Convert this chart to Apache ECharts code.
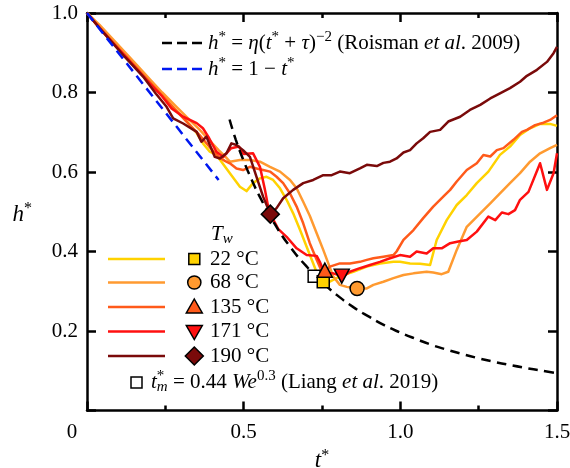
<!DOCTYPE html>
<html>
<head>
<meta charset="utf-8">
<script src="https://cdn.jsdelivr.net/npm/echarts@6.0.0/dist/echarts.min.js"></script>
<style>
  html, body { margin: 0; padding: 0; background: #fff; }
  #chart { width: 570px; height: 468px; }
</style>
</head>
<body>
<div id="chart"></div>
<script>
// Film thickness h* versus dimensionless time t* for several wall temperatures.
const FONT = '"Liberation Serif", "Times New Roman", Times, serif';

const C22 = '#FFD200';
const C68 = '#FF9A30';
const C135 = '#FF5A1A';
const C171 = '#FF1010';
const C190 = '#7A0A0A';

// measured curves, [t*, h*]
const h22 = [[0,1.0],[0.04,0.966],[0.08,0.93],[0.12,0.897],[0.16,0.862],[0.2,0.828],[0.24,0.793],[0.28,0.758],[0.32,0.726],[0.35,0.698],[0.37,0.672],[0.392,0.651],[0.413,0.643],[0.429,0.626],[0.456,0.597],[0.472,0.58],[0.488,0.563],[0.509,0.552],[0.53,0.572],[0.552,0.584],[0.573,0.588],[0.594,0.58],[0.616,0.559],[0.637,0.53],[0.658,0.496],[0.68,0.454],[0.701,0.412],[0.722,0.37],[0.738,0.337],[0.754,0.326],[0.775,0.324],[0.796,0.333],[0.818,0.341],[0.85,0.349],[0.893,0.362],[0.935,0.37],[0.978,0.374],[0.999,0.374],[1.031,0.37],[1.063,0.369],[1.095,0.366],[1.116,0.429],[1.148,0.479],[1.18,0.517],[1.212,0.542],[1.244,0.572],[1.281,0.601],[1.318,0.643],[1.35,0.664],[1.382,0.693],[1.414,0.71],[1.446,0.721],[1.478,0.721],[1.5,0.716]];

const h68 = [[0,1.0],[0.04,0.97],[0.08,0.936],[0.12,0.902],[0.16,0.868],[0.2,0.834],[0.24,0.8],[0.28,0.768],[0.32,0.737],[0.36,0.706],[0.39,0.68],[0.42,0.655],[0.44,0.64],[0.456,0.626],[0.488,0.63],[0.52,0.63],[0.552,0.626],[0.584,0.613],[0.616,0.601],[0.648,0.58],[0.669,0.559],[0.69,0.525],[0.711,0.49],[0.733,0.446],[0.754,0.404],[0.775,0.36],[0.786,0.337],[0.807,0.316],[0.829,0.311],[0.86,0.307],[0.893,0.307],[0.914,0.316],[0.946,0.324],[0.978,0.333],[1.01,0.341],[1.042,0.345],[1.084,0.349],[1.105,0.347],[1.132,0.343],[1.153,0.349],[1.18,0.404],[1.212,0.462],[1.255,0.496],[1.287,0.521],[1.318,0.546],[1.35,0.572],[1.382,0.597],[1.414,0.626],[1.446,0.647],[1.478,0.66],[1.5,0.668]];

const h135 = [[0,1.0],[0.04,0.964],[0.08,0.929],[0.12,0.895],[0.16,0.86],[0.2,0.826],[0.24,0.792],[0.28,0.758],[0.32,0.725],[0.36,0.692],[0.39,0.664],[0.42,0.638],[0.44,0.628],[0.456,0.622],[0.477,0.609],[0.498,0.605],[0.52,0.613],[0.541,0.609],[0.562,0.605],[0.584,0.601],[0.605,0.588],[0.626,0.572],[0.648,0.546],[0.669,0.513],[0.69,0.471],[0.711,0.421],[0.733,0.379],[0.749,0.35],[0.765,0.352],[0.775,0.362],[0.807,0.37],[0.839,0.37],[0.871,0.374],[0.893,0.379],[0.914,0.383],[0.946,0.387],[0.978,0.391],[0.988,0.4],[1.01,0.429],[1.042,0.454],[1.073,0.484],[1.105,0.513],[1.137,0.538],[1.159,0.555],[1.18,0.576],[1.212,0.605],[1.244,0.622],[1.265,0.643],[1.287,0.639],[1.308,0.655],[1.329,0.66],[1.361,0.681],[1.388,0.701],[1.404,0.706],[1.43,0.718],[1.457,0.724],[1.478,0.731],[1.5,0.743]];

const h171 = [[0,1.0],[0.04,0.962],[0.08,0.927],[0.12,0.893],[0.16,0.858],[0.2,0.823],[0.24,0.79],[0.27,0.76],[0.307,0.739],[0.35,0.723],[0.37,0.71],[0.387,0.689],[0.413,0.651],[0.435,0.638],[0.46,0.66],[0.485,0.664],[0.5,0.645],[0.53,0.647],[0.552,0.613],[0.568,0.555],[0.578,0.513],[0.595,0.48],[0.61,0.457],[0.637,0.437],[0.669,0.408],[0.701,0.391],[0.733,0.389],[0.743,0.374],[0.754,0.353],[0.759,0.345],[0.786,0.345],[0.818,0.337],[0.839,0.349],[0.871,0.358],[0.903,0.366],[0.935,0.374],[0.967,0.383],[0.999,0.391],[1.031,0.387],[1.052,0.4],[1.084,0.395],[1.105,0.408],[1.132,0.408],[1.159,0.421],[1.185,0.425],[1.212,0.429],[1.244,0.45],[1.281,0.488],[1.303,0.479],[1.324,0.498],[1.345,0.494],[1.366,0.504],[1.382,0.53],[1.409,0.55],[1.446,0.622],[1.468,0.555],[1.489,0.597],[1.5,0.647]];

const h190 = [[0,1.0],[0.04,0.962],[0.08,0.926],[0.12,0.89],[0.179,0.84],[0.22,0.797],[0.254,0.764],[0.275,0.735],[0.307,0.722],[0.35,0.701],[0.365,0.676],[0.381,0.689],[0.408,0.638],[0.424,0.634],[0.445,0.647],[0.461,0.672],[0.477,0.668],[0.498,0.655],[0.52,0.638],[0.541,0.588],[0.562,0.538],[0.585,0.494],[0.605,0.509],[0.626,0.534],[0.658,0.555],[0.69,0.572],[0.722,0.58],[0.754,0.592],[0.781,0.592],[0.807,0.601],[0.839,0.597],[0.871,0.609],[0.893,0.618],[0.925,0.615],[0.946,0.623],[0.967,0.626],[0.988,0.634],[1.01,0.649],[1.031,0.655],[1.052,0.672],[1.073,0.685],[1.095,0.701],[1.127,0.706],[1.153,0.727],[1.191,0.739],[1.222,0.756],[1.255,0.769],[1.287,0.785],[1.318,0.798],[1.35,0.811],[1.382,0.827],[1.404,0.842],[1.436,0.857],[1.468,0.877],[1.489,0.899],[1.5,0.915]];

// model curves
const roisman = [[0.455,0.732],[0.475,0.681],[0.5,0.628],[0.525,0.5815],[0.55,0.54],[0.6,0.468],[0.65,0.41],[0.7,0.363],[0.75,0.323],[0.8,0.289],[0.85,0.26],[0.9,0.236],[0.95,0.214],[1.0,0.196],[1.05,0.18],[1.1,0.165],[1.15,0.1527],[1.2,0.1415],[1.25,0.1314],[1.3,0.1224],[1.35,0.1143],[1.4,0.107],[1.45,0.1003],[1.5,0.094]];
const linearDecay = [[0,1.0],[0.42,0.58]];

// minimum-thickness points
const min22 = [0.754, 0.324];
const min68 = [0.862, 0.307];
const min135 = [0.759, 0.353];
const min171 = [0.813, 0.338];
const min190 = [0.585, 0.494];
const liang = [0.725, 0.338];

const tempLabels = ['22 °C', '68 °C', '135 °C', '171 °C', '190 °C'];
const xTicks = [0, 0.5, 1.0, 1.5];
const yTicks = [0, 0.2, 0.4, 0.6, 0.8, 1.0];

const chart = echarts.init(document.getElementById('chart'), null, { renderer: 'canvas' });

const base = { fontFamily: FONT, color: '#000' };
function mathRich(size, small, lh) {
  return {
    n: { ...base, fontSize: size, lineHeight: lh },
    i: { ...base, fontSize: size, lineHeight: lh, fontStyle: 'italic' },
    sup: { ...base, fontSize: small, verticalAlign: 'top' },
    supz: { ...base, fontSize: small, verticalAlign: 'top', width: 0 },
    sub: { ...base, fontSize: small, verticalAlign: 'bottom', fontStyle: 'italic' }
  };
}
const richMath = mathRich(21, 15, 26);
const richName = mathRich(23, 16, 28);

const frameLine = { show: true, onZero: false, lineStyle: { color: '#000', width: 2.5 } };
const tick = { show: true, inside: true, length: 9, lineStyle: { color: '#000', width: 2.5 } };
const minor = { show: true, splitNumber: 2, length: 5, lineStyle: { color: '#000', width: 2.5 } };

function curve(name, data, color) {
  return {
    name, type: 'line', data, symbol: 'none', showSymbol: false, silent: true,
    lineStyle: { color, width: 2.5, join: 'round' }, z: 2
  };
}
function marker(name, point, symbol, size, color, rotate) {
  return {
    name, type: 'scatter', data: [point], symbol, symbolSize: size, symbolRotate: rotate || 0,
    silent: true, z: 5,
    itemStyle: { color, borderColor: '#000', borderWidth: 1.5, opacity: 1 }
  };
}

// legend glyphs
const legendY = [259, 282.5, 307, 331.5, 356];
const legendColors = [C22, C68, C135, C171, C190];
const graphics = [];

graphics.push({ type: 'line', shape: { x1: 162, y1: 43, x2: 203, y2: 43 }, style: { stroke: '#000', lineWidth: 2.5, lineDash: [10, 5] } });
graphics.push({ type: 'text', x: 208, y: 43, style: { text: '{i|h}{sup|*}{n| = }{i|η}{n|(}{i|t}{sup|*}{n| + }{i|τ}{n|)}{sup|−2}{n| (Roisman }{i|et al}{n|. 2009)}', rich: richMath, verticalAlign: 'middle' } });
graphics.push({ type: 'line', shape: { x1: 162, y1: 69, x2: 203, y2: 69 }, style: { stroke: '#0018F0', lineWidth: 2.5, lineDash: [10, 5] } });
graphics.push({ type: 'text', x: 208, y: 69, style: { text: '{i|h}{sup|*}{n| = 1 − }{i|t}{sup|*}', rich: richMath, verticalAlign: 'middle' } });

graphics.push({ type: 'text', x: 211, y: 234, style: { text: '{i|T}{sub|w}', rich: richMath, verticalAlign: 'middle' } });

legendY.forEach((y, k) => {
  graphics.push({ type: 'line', shape: { x1: 108, y1: y, x2: 165, y2: y }, style: { stroke: legendColors[k], lineWidth: 2.5 } });
  graphics.push({ type: 'text', x: 210, y: y, style: { text: tempLabels[k], fontFamily: FONT, fontSize: 21, fill: '#000', verticalAlign: 'middle' } });
});
const gx = 194.3;
const glyphStyle = (fill) => ({ fill, stroke: '#000', lineWidth: 1.5 });
graphics.push({ type: 'rect', shape: { x: gx - 5.5, y: legendY[0] - 5.5, width: 11, height: 11 }, style: glyphStyle(C22) });
graphics.push({ type: 'circle', shape: { cx: gx, cy: legendY[1], r: 6.6 }, style: glyphStyle(C68) });
graphics.push({ type: 'polygon', shape: { points: [[gx, legendY[2] - 8], [gx + 8, legendY[2] + 6], [gx - 8, legendY[2] + 6]] }, style: glyphStyle(C135) });
graphics.push({ type: 'polygon', shape: { points: [[gx - 8, legendY[3] - 6], [gx + 8, legendY[3] - 6], [gx, legendY[3] + 8]] }, style: glyphStyle(C171) });
graphics.push({ type: 'polygon', shape: { points: [[gx, legendY[4] - 9], [gx + 9, legendY[4]], [gx, legendY[4] + 9], [gx - 9, legendY[4]]] }, style: glyphStyle(C190) });

graphics.push({ type: 'rect', shape: { x: 131, y: 377, width: 11, height: 11 }, style: glyphStyle('#fff') });
graphics.push({ type: 'text', x: 151, y: 382, style: { text: '{i|t}{supz|*}{sub|m}{n| = 0.44 }{i|We}{sup|0.3}{n| (Liang }{i|et al}{n|. 2019)}', rich: richMath, verticalAlign: 'middle' } });

const option = {
  animation: false,
  backgroundColor: '#fff',
  grid: { left: 87, right: 13, top: 13, bottom: 57.5, containLabel: false, outerBoundsMode: 'none' },
  xAxis: [
    {
      type: 'value', position: 'bottom', min: xTicks[0], max: xTicks[xTicks.length - 1], interval: 0.5,
      axisLine: frameLine, axisTick: tick, minorTick: minor,
      splitLine: { show: false }, minorSplitLine: { show: false },
      axisLabel: {
        margin: 11, fontFamily: FONT, fontSize: 21, color: '#000',
        formatter: v => (v === 0 ? '{o|0}' : v.toFixed(1)),
        rich: { o: { fontFamily: FONT, fontSize: 21, color: '#000', padding: [0, 30, 0, 0] } }
      },
      name: '{i|t}{sup|*}', nameLocation: 'middle', nameGap: 30,
      nameTextStyle: { fontFamily: FONT, fontSize: 23, rich: richName }
    },
    {
      type: 'value', position: 'top', min: xTicks[0], max: xTicks[xTicks.length - 1], interval: 0.5,
      axisLine: frameLine, axisTick: tick, minorTick: minor,
      splitLine: { show: false }, minorSplitLine: { show: false }, axisLabel: { show: false }
    }
  ],
  yAxis: [
    {
      type: 'value', position: 'left', min: yTicks[0], max: yTicks[yTicks.length - 1], interval: 0.2,
      axisLine: frameLine, axisTick: tick, minorTick: { show: false },
      splitLine: { show: false },
      axisLabel: { margin: 9, fontFamily: FONT, fontSize: 21, color: '#000', formatter: v => (v === 0 ? '' : v.toFixed(1)) },
      name: '{i|h}{sup|*}', nameLocation: 'middle', nameRotate: 0, nameGap: 55,
      nameTextStyle: { fontFamily: FONT, fontSize: 23, rich: richName, padding: [7, 0, 0, 0] }
    },
    {
      type: 'value', position: 'right', min: yTicks[0], max: yTicks[yTicks.length - 1], interval: 0.2,
      axisLine: frameLine, axisTick: tick, minorTick: { show: false },
      splitLine: { show: false }, axisLabel: { show: false }
    }
  ],
  series: [
    curve('22 °C', h22, C22),
    curve('68 °C', h68, C68),
    curve('135 °C', h135, C135),
    curve('171 °C', h171, C171),
    curve('190 °C', h190, C190),
    {
      name: 'Roisman', type: 'line', data: roisman, smooth: true, symbol: 'none', silent: true, z: 3,
      lineStyle: { color: '#000', width: 2.5, type: [10, 6] }
    },
    {
      name: 'Linear', type: 'line', data: linearDecay, symbol: 'none', silent: true, z: 3,
      lineStyle: { color: '#0018F0', width: 2.5, type: [10, 6] }
    },
    marker('Liang', liang, 'rect', 12, '#fff'),
    marker('min 22', min22, 'rect', 12, C22),
    marker('min 68', min68, 'circle', 14, C68),
    marker('min 135', min135, 'triangle', [15, 14], C135),
    marker('min 171', min171, 'triangle', [15, 14], C171, 180),
    marker('min 190', min190, 'diamond', [18, 18], C190)
  ],
  graphic: { elements: graphics }
};

chart.setOption(option);
</script>
</body>
</html>
